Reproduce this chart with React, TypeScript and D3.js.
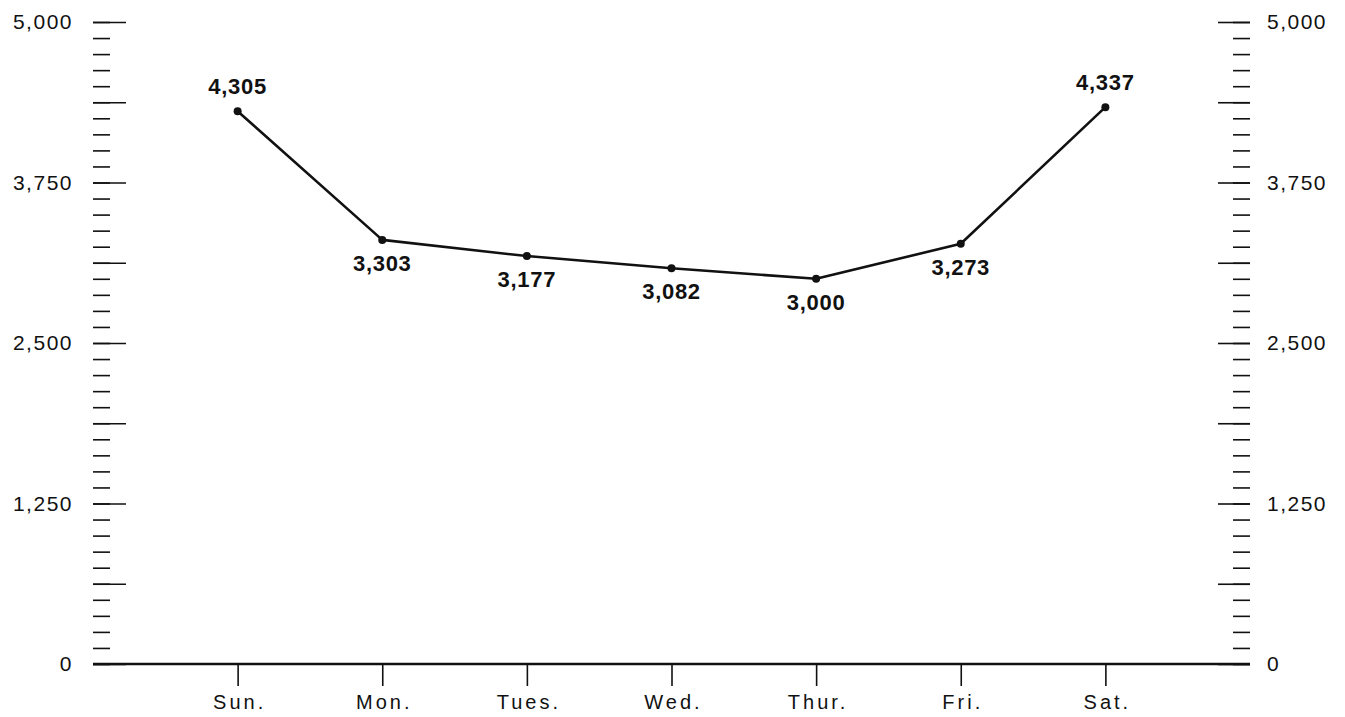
import React, { useEffect, useRef } from 'react';
import * as d3 from 'd3';

const days = ['Sun.', 'Mon.', 'Tues.', 'Wed.', 'Thur.', 'Fri.', 'Sat.'];
const counts = [4305, 3303, 3177, 3082, 3000, 3273, 4337];
// labels for the two weekend points sit above the line, the rest below
const labelAbove = [true, false, false, false, false, false, true];
const labelTicks = [0, 1250, 2500, 3750, 5000];

const W = 1345;
const H = 717;
const FONT = '"Liberation Sans", Arial, Helvetica, sans-serif';

const App: React.FC = () => {
  const svgRef = useRef<SVGSVGElement>(null);

  useEffect(() => {
    if (!svgRef.current) return;
    const svg = d3.select(svgRef.current);
    svg.selectAll('*').remove();

    const left = 93;
    const right = 1250;
    const top = 22;
    const bottom = 664;

    const x = d3.scalePoint<string>().domain(days).range([left, right]).padding(1);
    const y = d3.scaleLinear().domain([0, 5000]).range([bottom, top]);

    const minorVals = d3.range(0, 5001, 125);
    const majorVals = d3.range(0, 5001, 625);
    const fmt = d3.format(',');

    // left axis: minor ticks, long ticks, labels
    const gl = svg.append('g').attr('transform', `translate(${left},0)`);
    gl.append('g').call(d3.axisLeft(y).tickValues(minorVals).tickSizeInner(-17).tickSizeOuter(0).tickFormat(() => ''));
    gl.append('g').call(
      d3.axisLeft(y).tickValues(majorVals).tickSizeInner(-33).tickSizeOuter(0).tickPadding(20)
        .tickFormat((d: any) => (labelTicks.includes(+d) ? fmt(+d) : ''))
    );

    // right axis
    const gr = svg.append('g').attr('transform', `translate(${right},0)`);
    gr.append('g').call(d3.axisRight(y).tickValues(minorVals).tickSizeInner(-17).tickSizeOuter(0).tickFormat(() => ''));
    gr.append('g').call(
      d3.axisRight(y).tickValues(majorVals).tickSizeInner(-32).tickSizeOuter(0).tickPadding(17)
        .tickFormat((d: any) => (labelTicks.includes(+d) ? fmt(+d) : ''))
    );

    svg.selectAll('.domain').remove();
    svg.selectAll('.tick line').attr('stroke', '#111').attr('stroke-width', 1.6);
    svg.selectAll('.tick text')
      .attr('fill', '#111')
      .style('font-family', FONT)
      .style('font-size', '21px')
      .style('letter-spacing', '1.5px');

    // bottom axis (days)
    const gb = svg.append('g').attr('transform', `translate(0,${bottom})`);
    gb.call(d3.axisBottom(x).tickSizeInner(22).tickSizeOuter(0).tickPadding(9));
    gb.select('.domain').remove();
    gb.selectAll('.tick line').attr('stroke', '#111').attr('stroke-width', 1.6);
    gb.selectAll('.tick text')
      .attr('fill', '#111')
      .attr('dx', '1.5px')
      .style('font-family', FONT)
      .style('font-size', '20px')
      .style('letter-spacing', '3px');

    // baseline
    svg.append('line')
      .attr('x1', left).attr('x2', right)
      .attr('y1', y(0)).attr('y2', y(0))
      .attr('stroke', '#111').attr('stroke-width', 2.4);

    const pts = days.map((d, i) => ({ day: d, v: counts[i], above: labelAbove[i] }));

    const line = d3.line<any>().x((d) => x(d.day)!).y((d) => y(d.v));
    svg.append('path')
      .datum(pts)
      .attr('d', line)
      .attr('fill', 'none')
      .attr('stroke', '#111')
      .attr('stroke-width', 2.6)
      .attr('stroke-linejoin', 'round');

    svg.selectAll('.pt')
      .data(pts)
      .enter().append('circle')
      .attr('class', 'pt')
      .attr('cx', (d) => x(d.day)!)
      .attr('cy', (d) => y(d.v))
      .attr('r', 4)
      .attr('fill', '#111');

    svg.selectAll('.val')
      .data(pts)
      .enter().append('text')
      .attr('class', 'val')
      .attr('x', (d) => x(d.day)!)
      .attr('y', (d) => y(d.v) + (d.above ? -17 : 31))
      .attr('text-anchor', 'middle')
      .attr('fill', '#111')
      .style('font-family', FONT)
      .style('font-size', '22px')
      .style('font-weight', 'bold')
      .style('letter-spacing', '0.7px')
      .text((d) => fmt(d.v));
  }, []);

  return (
    <svg
      ref={svgRef}
      width={W}
      height={H}
      style={{ position: 'absolute', left: 0, top: 0, background: '#fff' }}
    />
  );
};

export default App;
